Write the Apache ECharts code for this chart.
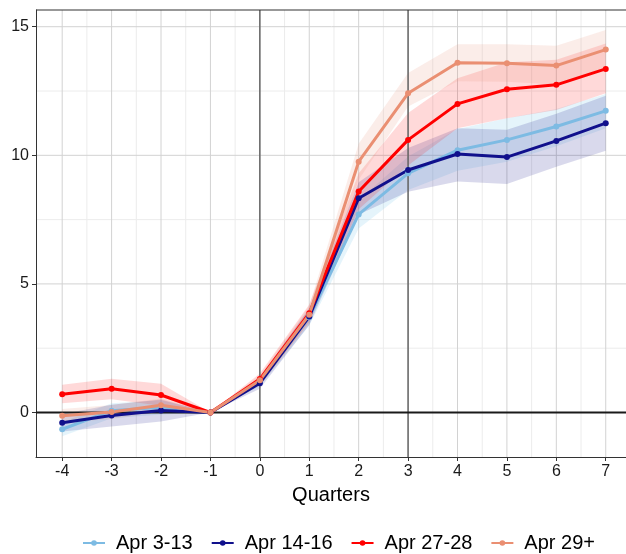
<!DOCTYPE html>
<html><head><meta charset="utf-8">
<script src="https://cdn.jsdelivr.net/npm/echarts@6/dist/echarts.min.js"></script>
<style>html,body{margin:0;padding:0;background:#fff}#c{width:626px;height:554px}</style>
</head><body><div id="c"></div>
<script>
// ---- data ----
const quarters = [-4, -3, -2, -1, 0, 1, 2, 3, 4, 5, 6, 7];
const seriesNames = ['Apr 3-13', 'Apr 14-16', 'Apr 27-28', 'Apr 29+'];

const apr3_13    = [-0.65, 0.07, 0.20, 0, 1.20, 3.70, 7.70, 9.30, 10.20, 10.60, 11.12, 11.73];
const apr3_13Lo  = [-0.92, -0.22, -0.08, 0, 1.02, 3.38, 7.15, 8.65, 9.40, 9.75, 10.35, 11.05];
const apr3_13Hi  = [-0.38, 0.36, 0.48, 0, 1.38, 4.02, 8.25, 9.95, 11.02, 11.44, 11.80, 12.38];

const apr14_16   = [-0.40, -0.12, 0.08, 0, 1.14, 3.73, 8.33, 9.43, 10.05, 9.93, 10.56, 11.25];
const apr14_16Lo = [-0.74, -0.54, -0.35, 0, 0.92, 3.40, 7.70, 8.58, 8.98, 8.88, 9.56, 10.18];
const apr14_16Hi = [-0.06, 0.30, 0.51, 0, 1.36, 4.06, 8.95, 10.28, 11.05, 10.99, 11.62, 12.32];

const apr27_28   = [0.71, 0.92, 0.68, 0, 1.30, 3.86, 8.59, 10.60, 12.00, 12.57, 12.74, 13.36];
const apr27_28Lo = [0.36, 0.52, 0.26, 0, 1.08, 3.52, 7.90, 9.60, 11.05, 11.44, 11.76, 12.41];
const apr27_28Hi = [1.08, 1.31, 1.12, 0, 1.52, 4.20, 9.30, 11.65, 13.00, 13.62, 13.72, 14.35];

const apr29      = [-0.13, 0.02, 0.28, 0, 1.25, 3.80, 9.75, 12.41, 13.60, 13.58, 13.49, 14.11];
const apr29Lo    = [-0.40, -0.25, 0.02, 0, 1.05, 3.45, 9.05, 11.90, 12.88, 12.86, 12.75, 13.35];
const apr29Hi    = [0.14, 0.29, 0.54, 0, 1.45, 4.15, 10.45, 13.20, 14.32, 14.32, 14.26, 14.87];

const xMajorTicks = [-4, -3, -2, -1, 0, 1, 2, 3, 4, 5, 6, 7];
const xMinorTicks = [-3.5, -2.5, -1.5, -0.5, 0.5, 1.5, 2.5, 3.5, 4.5, 5.5, 6.5];
const yMajorTicks = [0, 5, 10, 15];
const yMinorTicks = [2.5, 7.5, 12.5];
const refX = [0, 3];
const refY = [0];

const X_MIN = -4.53, X_MAX = 7.41, Y_MIN = -1.73, Y_MAX = 15.65;

const lineColors = ['#7dbbe3', '#10108c', '#ff0000', '#ea8f72'];
const bandColors = ['rgba(135,206,235,0.22)', 'rgba(0,0,128,0.15)', 'rgba(255,0,0,0.15)', 'rgba(233,150,122,0.17)'];
const FONT = 'Liberation Sans, Arial, sans-serif';

const values = [apr3_13, apr14_16, apr27_28, apr29];
const lows = [apr3_13Lo, apr14_16Lo, apr27_28Lo, apr29Lo];
const highs = [apr3_13Hi, apr14_16Hi, apr27_28Hi, apr29Hi];

function vLines(vals, color, width, z) {
  return {
    type: 'custom', silent: true, z: z, clip: true,
    data: vals.map(v => [v, 0]),
    renderItem: (p, api) => {
      const v = api.value(0);
      const a = api.coord([v, Y_MIN]), b = api.coord([v, Y_MAX]);
      return { type: 'line', shape: { x1: a[0], y1: a[1], x2: b[0], y2: b[1] },
        style: { stroke: color, lineWidth: width } };
    }
  };
}
function hLines(vals, color, width, z) {
  return {
    type: 'custom', silent: true, z: z, clip: false,
    data: vals.map(v => [0, v]),
    renderItem: (p, api) => {
      const v = api.value(1);
      const a = api.coord([X_MIN, v]), b = api.coord([X_MAX, v]);
      return { type: 'line', shape: { x1: a[0], y1: a[1], x2: b[0] + 2, y2: b[1] },
        style: { stroke: color, lineWidth: width } };
    }
  };
}
function band(i) {
  const lo = lows[i], hi = highs[i];
  return {
    type: 'custom', silent: true, z: 2, name: seriesNames[i] + ' band',
    data: [[quarters[0], lo[0]]],
    renderItem: (p, api) => {
      const pts = [];
      for (let k = 0; k < quarters.length; k++) pts.push(api.coord([quarters[k], hi[k]]));
      for (let k = quarters.length - 1; k >= 0; k--) pts.push(api.coord([quarters[k], lo[k]]));
      return { type: 'polygon', shape: { points: pts }, style: { fill: bandColors[i] } };
    }
  };
}
function line(i) {
  return {
    type: 'line', name: seriesNames[i], z: 4,
    data: quarters.map((q, k) => [q, values[i][k]]),
    symbol: 'circle', symbolSize: 6, showSymbol: true,
    lineStyle: { width: 3, color: lineColors[i] },
    itemStyle: { color: lineColors[i] },
    emphasis: { disabled: true }
  };
}

const series = [
  vLines(xMinorTicks, '#ececec', 1, 0),
  hLines(yMinorTicks, '#ececec', 1, 0),
  vLines(xMajorTicks, '#d2d2d2', 1, 0),
  hLines(yMajorTicks, '#d2d2d2', 1, 0),
  band(0), band(1), band(2), band(3),
  vLines(refX, '#666666', 1.5, 3),
  hLines(refY, '#1a1a1a', 2, 3),
  hLines([Y_MAX], '#333333', 1.2, 5),
  line(0), line(1), line(2), line(3)
];

const chart = echarts.init(document.getElementById('c'), null, { renderer: 'canvas' });
chart.setOption({
  animation: false,
  backgroundColor: '#fff',
  textStyle: { fontFamily: FONT },
  grid: { left: 36, right: 0, top: 10, bottom: 97, show: false },
  xAxis: {
    type: 'value', min: X_MIN, max: X_MAX,
    splitLine: { show: false },
    axisLine: { show: true, onZero: false, lineStyle: { color: '#333', width: 1 } },
    axisTick: { show: true, customValues: xMajorTicks, length: 4, lineStyle: { color: '#333' } },
    axisLabel: { customValues: xMajorTicks, fontSize: 16, color: '#1a1a1a', margin: 7, fontFamily: FONT },
    name: 'Quarters', nameLocation: 'middle', nameGap: 28,
    nameTextStyle: { fontSize: 20, color: '#000', fontFamily: FONT }
  },
  yAxis: {
    type: 'value', min: Y_MIN, max: Y_MAX,
    splitLine: { show: false },
    axisLine: { show: true, onZero: false, lineStyle: { color: '#333', width: 1 } },
    axisTick: { show: true, customValues: yMajorTicks, length: 4, lineStyle: { color: '#333' } },
    axisLabel: { customValues: yMajorTicks, fontSize: 16, color: '#1a1a1a', margin: 7, fontFamily: FONT }
  },
  legend: {
    data: seriesNames, left: 77, top: 528, itemWidth: 22, itemHeight: 7, itemGap: 18,
    textStyle: { fontSize: 20, color: '#000', fontFamily: FONT, padding: [0, 0, 0, 6] }
  },
  series: series
});
</script></body></html>
